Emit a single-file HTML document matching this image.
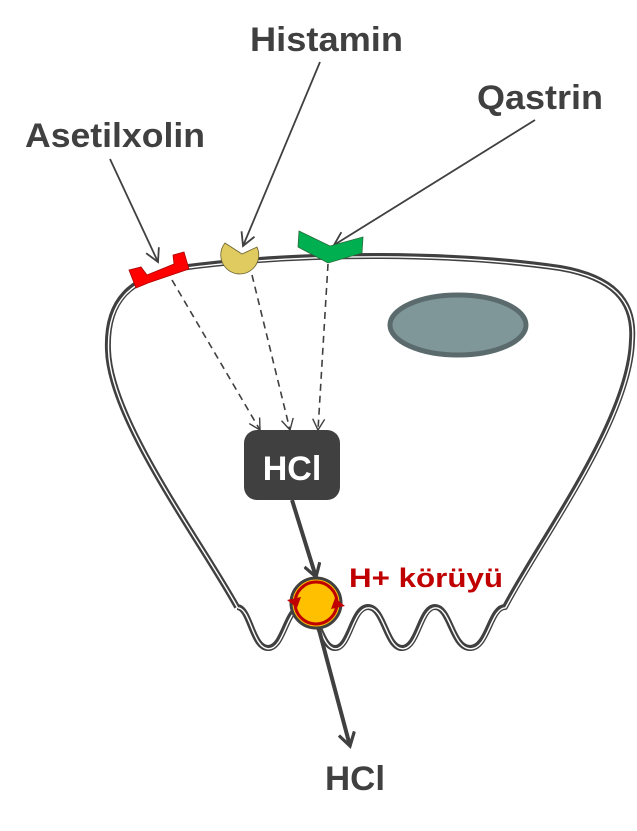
<!DOCTYPE html>
<html><head><meta charset="utf-8"><style>
html,body{margin:0;padding:0;background:#fff;}
svg{display:block;}
text{font-family:"Liberation Sans Narrow","Liberation Sans",sans-serif;font-weight:bold;}
</style></head><body>
<svg width="637" height="831" viewBox="0 0 637 831" xmlns="http://www.w3.org/2000/svg">
<defs>
<marker id="ah" markerWidth="16" markerHeight="16" refX="14" refY="8" orient="auto" markerUnits="userSpaceOnUse">
<path d="M1,1 L14,8 L1,15" fill="none" stroke="#404040" stroke-width="1.8"/>
</marker>
<marker id="ah3" markerWidth="14" markerHeight="14" refX="12" refY="7" orient="auto" markerUnits="userSpaceOnUse">
<path d="M1,1 L12,7 L1,13" fill="none" stroke="#404040" stroke-width="1.4"/>
</marker>
<marker id="ah2" markerWidth="18" markerHeight="18" refX="14" refY="9" orient="auto" markerUnits="userSpaceOnUse">
<path d="M1,1 L14,9 L1,17" fill="none" stroke="#404040" stroke-width="3.2"/>
</marker>
</defs>
<g fill="none" stroke-linejoin="round">
<path d="M237,607 C200,540 110,420 108,350 C106,300 130,278 180,268 C300,252 450,252 560,268 C612,277 635,300 632,340 C630,420 540,540 505,607 C490,607 488,648 470,648 C452,648 450,607 435,607 C420,607 418,648 402,648 C386,648 384,607 368,607 C352,607 350,648 335,648 C320,648 318,607 302,607 C286,607 284,648 268,648 C252,648 250,607 237,607" stroke="#404040" stroke-width="6"/>
<path d="M237,607 C200,540 110,420 108,350 C106,300 130,278 180,268 C300,252 450,252 560,268 C612,277 635,300 632,340 C630,420 540,540 505,607 C490,607 488,648 470,648 C452,648 450,607 435,607 C420,607 418,648 402,648 C386,648 384,607 368,607 C352,607 350,648 335,648 C320,648 318,607 302,607 C286,607 284,648 268,648 C252,648 250,607 237,607" stroke="#fff" stroke-width="1.4" transform="translate(0.6,0.8)"/>
</g>
<ellipse cx="458" cy="325" rx="68" ry="30" fill="#7f9799" stroke="#5b6b6d" stroke-width="5"/>
<text x="25" y="147" font-size="34" fill="#404040" textLength="180" lengthAdjust="spacingAndGlyphs">Asetilxolin</text>
<text x="250" y="51" font-size="34" fill="#404040" textLength="153" lengthAdjust="spacingAndGlyphs">Histamin</text>
<text x="477" y="109" font-size="34" fill="#404040" textLength="126" lengthAdjust="spacingAndGlyphs">Qastrin</text>
<line x1="110" y1="159" x2="158" y2="262" stroke="#404040" stroke-width="1.8" marker-end="url(#ah)"/>
<line x1="320" y1="62" x2="243" y2="246" stroke="#404040" stroke-width="1.8" marker-end="url(#ah)"/>
<line x1="535" y1="120" x2="334" y2="245" stroke="#404040" stroke-width="1.8" marker-end="url(#ah)"/>
<g stroke="#404040" stroke-width="1.6" stroke-dasharray="7,5" fill="none">
<line x1="172" y1="280" x2="260" y2="430" marker-end="url(#ah3)"/>
<line x1="252" y1="275" x2="290" y2="430" marker-end="url(#ah3)"/>
<line x1="328" y1="264" x2="318" y2="430" marker-end="url(#ah3)"/>
</g>
<polygon points="129,270 141,267 147,275 174,264 173,255 184,252 189,269 148,283 136,288" fill="#ff0000" stroke="#a00" stroke-width="0.8"/>
<path d="M225,243 L242,254 L257,247 A19,19 0 1 1 225,243 Z" fill="#e0cb60" stroke="#6a6030" stroke-width="0.8"/>
<polygon points="299,231 330,246 363,237 362,253 328,263 298,247" fill="#00b050" stroke="#2a6a3a" stroke-width="0.8"/>
<rect x="244" y="430" width="96" height="70" rx="13" fill="#404040"/>
<text x="292" y="480" font-size="34" fill="#fff" text-anchor="middle" font-family="Liberation Sans, sans-serif">HCl</text>
<line x1="292" y1="500" x2="316" y2="577" stroke="#404040" stroke-width="4" marker-end="url(#ah2)"/>
<line x1="318" y1="626" x2="350" y2="746" stroke="#404040" stroke-width="4" marker-end="url(#ah2)"/>
<circle cx="316" cy="603" r="25" fill="#ffc000" stroke="#404040" stroke-width="3"/>
<circle cx="316" cy="603" r="21" fill="none" stroke="#c00000" stroke-width="3"/>
<polygon points="335,598 345,606 331,609" fill="#c00000"/>
<polygon points="297,608 287,600 301,597" fill="#c00000"/>
<text x="349" y="587" font-size="27" fill="#c00000" textLength="154" lengthAdjust="spacingAndGlyphs">H+ körüyü</text>
<text x="325" y="790" font-size="34" fill="#404040" textLength="60" lengthAdjust="spacingAndGlyphs">HCl</text>
</svg>
</body></html>
